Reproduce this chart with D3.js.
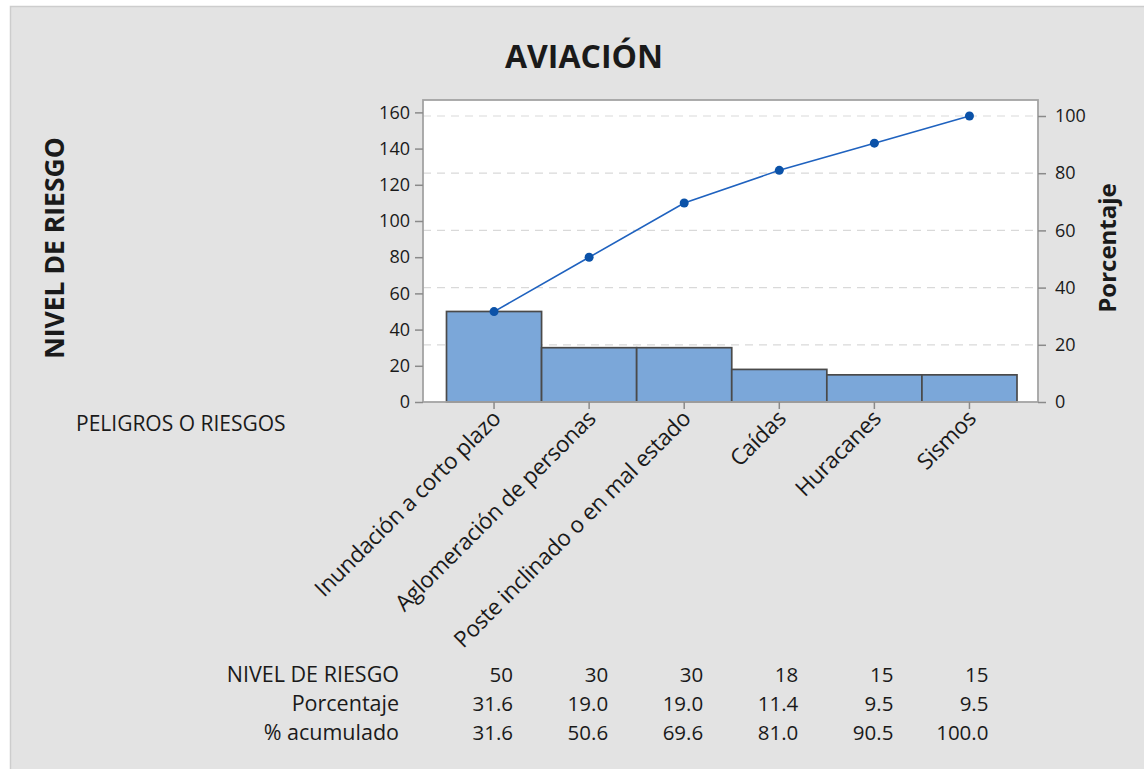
<!DOCTYPE html>
<html><head><meta charset="utf-8">
<script src="https://cdn.jsdelivr.net/npm/d3@7"></script>
<style>
html,body{margin:0;padding:0;background:#fff;}
text{font-family:"Open Sans",sans-serif;fill:#1a1a1a;}
</style></head>
<body>
<svg id="chart" width="1144" height="769"></svg>
<script>
const categories = ["Inundación a corto plazo","Aglomeración de personas","Poste inclinado o en mal estado","Caídas","Huracanes","Sismos"];
const nivel = [50, 30, 30, 18, 15, 15];
const porcentaje = ["31.6","19.0","19.0","11.4","9.5","9.5"];
const acumulado = [31.6, 50.6, 69.6, 81.0, 90.5, 100.0];
const leftTicks = [0,20,40,60,80,100,120,140,160];
const rightTicks = [0,20,40,60,80,100];

const svg = d3.select("#chart");
const total = d3.sum(nivel);

// panel
svg.append("rect").attr("x",10.5).attr("y",6.5).attr("width",1140).attr("height",770)
  .attr("fill","#e3e3e3").attr("stroke","#cdcdcd").attr("stroke-width",1.5);

const plot = {l:423, r:1038, t:100, b:402};
const x = d3.scaleBand().domain(categories).range([446.5, 1017]).padding(0);
const yL = d3.scaleLinear().domain([0,total]).range([plot.b, 116]);
const yR = d3.scaleLinear().domain([0,100]).range([plot.b, 116]);

svg.append("rect").attr("x",plot.l).attr("y",plot.t).attr("width",plot.r-plot.l).attr("height",plot.b-plot.t)
  .attr("fill","#fff");

// gridlines
svg.append("g").selectAll("line").data(rightTicks.filter(d=>d>0)).join("line")
  .attr("x1",plot.l).attr("x2",plot.r).attr("y1",d=>yR(d)).attr("y2",d=>yR(d))
  .attr("stroke","#d9d9d9").attr("stroke-width",1.2).attr("stroke-dasharray","8,6");

// bars
svg.append("g").selectAll("rect").data(nivel).join("rect")
  .attr("x",(d,i)=>x(categories[i])).attr("width",x.bandwidth())
  .attr("y",d=>yL(d)).attr("height",d=>yL(0)-yL(d))
  .attr("fill","#7ba7d9").attr("stroke","#4a4a4a").attr("stroke-width",1.7);

// plot frame
svg.append("rect").attr("x",plot.l).attr("y",plot.t).attr("width",plot.r-plot.l).attr("height",plot.b-plot.t)
  .attr("fill","none").attr("stroke","#a3a3a3").attr("stroke-width",1.8);

// left axis
const gl = svg.append("g").attr("transform",`translate(${plot.l},0)`)
  .call(d3.axisLeft(yL).tickValues(leftTicks).tickSize(8).tickPadding(5));
gl.select(".domain").remove();
gl.selectAll(".tick line").attr("stroke","#8a8a8a").attr("stroke-width",1.5);
gl.selectAll(".tick text").attr("font-size",18).attr("font-family","Open Sans").attr("fill","#1a1a1a");

// right axis
const gr = svg.append("g").attr("transform",`translate(${plot.r},0)`)
  .call(d3.axisRight(yR).tickValues(rightTicks).tickSize(8).tickPadding(9));
gr.select(".domain").remove();
gr.selectAll(".tick line").attr("stroke","#8a8a8a").attr("stroke-width",1.5);
gr.selectAll(".tick text").attr("font-size",18).attr("font-family","Open Sans").attr("fill","#1a1a1a");

// bottom axis
const gb = svg.append("g").attr("transform",`translate(0,${plot.b})`)
  .call(d3.axisBottom(x).tickSize(7).tickFormat(""));
gb.select(".domain").remove();
gb.selectAll(".tick line").attr("stroke","#8a8a8a").attr("stroke-width",1.5);

// category labels
svg.append("g").selectAll("text").data(categories).join("text")
  .attr("transform",d=>`translate(${x(d)+x.bandwidth()/2+8},${plot.b+18}) rotate(-45)`)
  .attr("text-anchor","end").attr("font-size",22.5).attr("letter-spacing","-0.3")
  .text(d=>d);

// cumulative line
const cx = (d,i)=>x(categories[i])+x.bandwidth()/2;
svg.append("path").datum(acumulado)
  .attr("d",d3.line().x(cx).y(d=>yR(d)))
  .attr("fill","none").attr("stroke","#1f62bf").attr("stroke-width",1.6);
svg.append("g").selectAll("circle").data(acumulado).join("circle")
  .attr("cx",cx).attr("cy",d=>yR(d)).attr("r",4.5).attr("fill","#0b52a8");

// titles
svg.append("text").attr("x",584).attr("y",68).attr("text-anchor","middle")
  .attr("font-size",32).attr("font-weight","bold").text("AVIACIÓN");
svg.append("text").attr("transform","translate(64,248) rotate(-90)").attr("text-anchor","middle")
  .attr("font-size",26.5).attr("font-weight","bold").text("NIVEL DE RIESGO");
svg.append("text").attr("transform","translate(1116,248) rotate(-90)").attr("text-anchor","middle")
  .attr("font-size",24).attr("font-weight","bold").text("Porcentaje");
svg.append("text").attr("x",76).attr("y",431).attr("font-size",21).text("PELIGROS O RIESGOS");

// table
const rows = [
  {label:"NIVEL DE RIESGO", vals:nivel.map(String), y:682},
  {label:"Porcentaje", vals:porcentaje, y:711},
  {label:"% acumulado", vals:acumulado.map(d=>d.toFixed(1)), y:740}
];
const tg = svg.append("g");
rows.forEach(r=>{
  tg.append("text").attr("x",399).attr("y",r.y).attr("text-anchor","end").attr("font-size",21.5).text(r.label);
  tg.append("g").selectAll("text").data(r.vals).join("text")
    .attr("x",(d,i)=>x(categories[i])+x.bandwidth()/2+19).attr("y",r.y)
    .attr("text-anchor","end").attr("font-size",20.5).text(d=>d);
});
</script>
</body></html>
